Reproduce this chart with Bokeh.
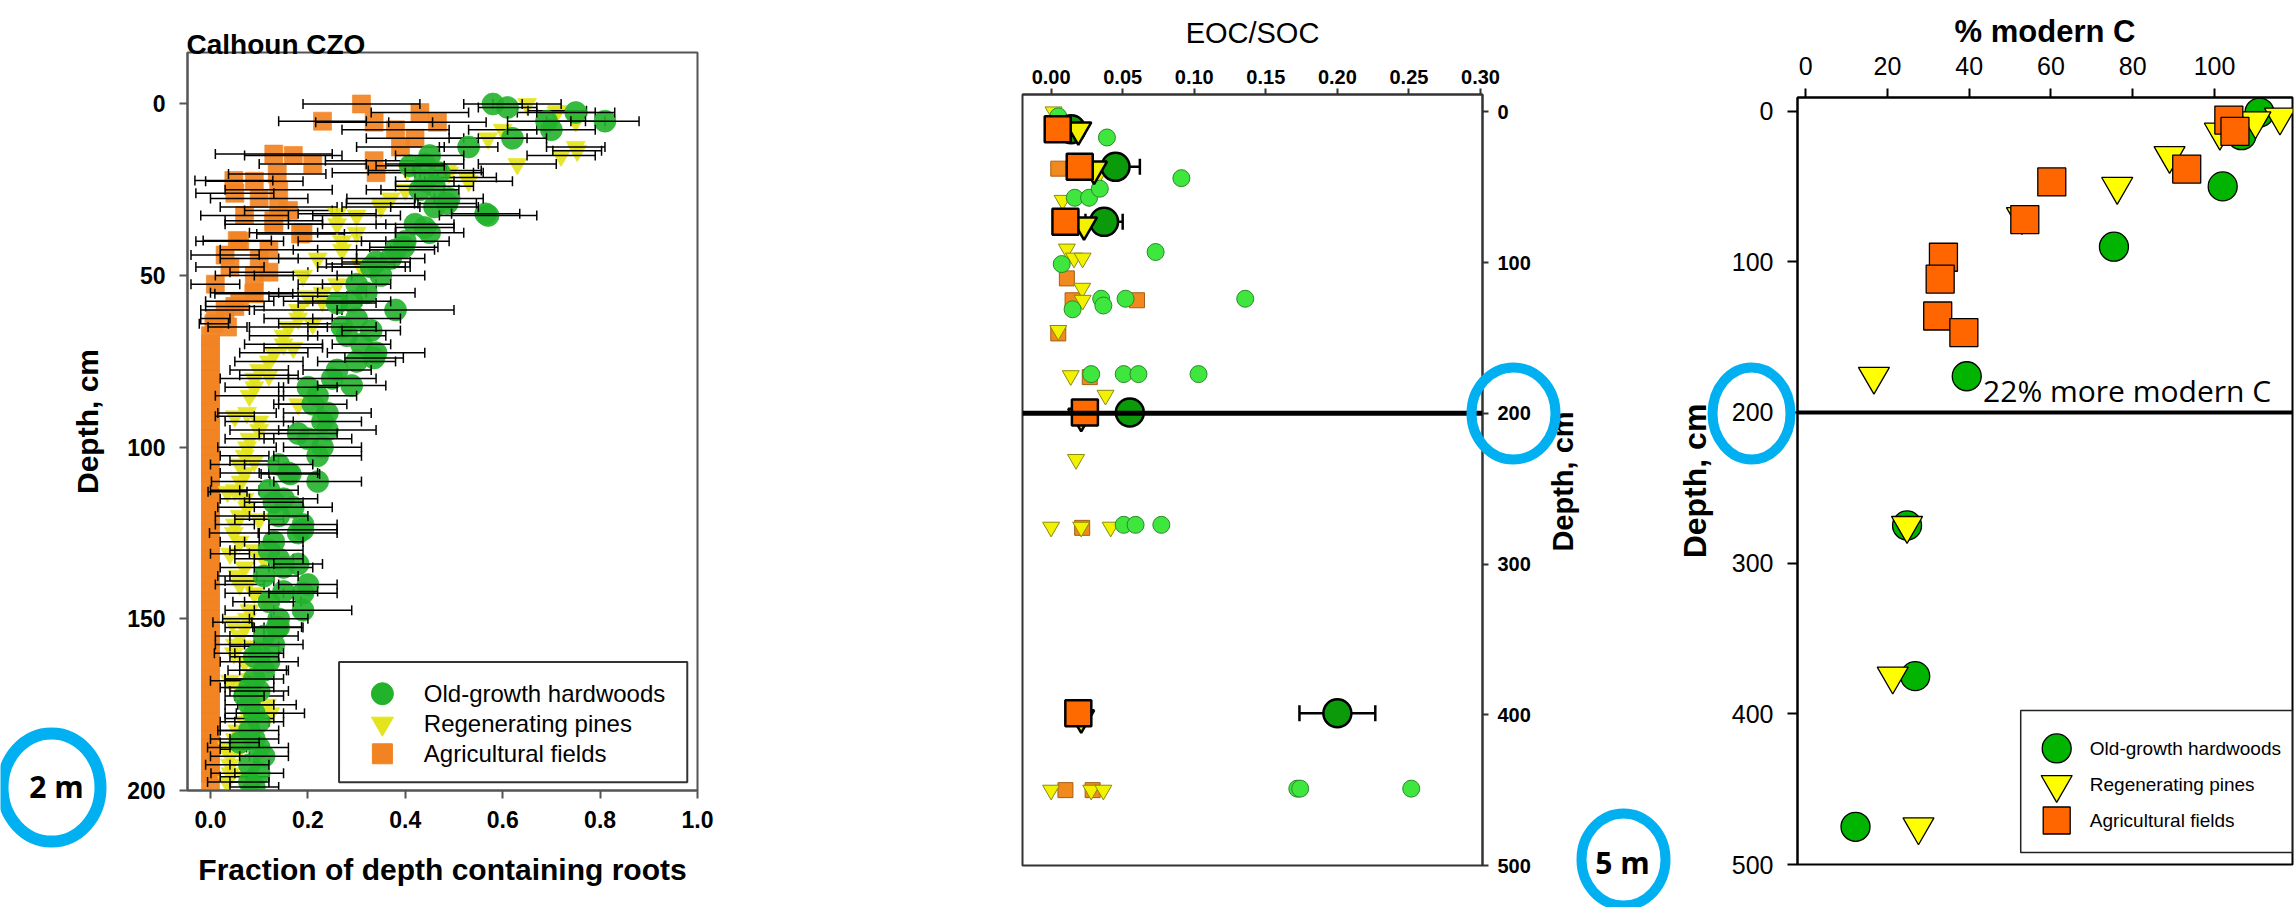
import numpy as np
from bokeh.plotting import figure
from bokeh.models import Range1d, FixedTicker, PrintfTickFormatter, Span, Label, BoxAnnotation, GridBox
from bokeh.core.properties import value
from bokeh.embed import file_html
from bokeh.resources import INLINE

FONT = "Liberation Sans"
RING = "#00B0F0"
H = 907

# ---------------- Panel 1 data: fraction of depth containing roots ----------------
P1_DEPTH = [0, 2.5, 5, 7.5, 10, 12.5, 15, 17.5, 20, 22.5,
            25, 27.5, 30, 32.5, 35, 37.5, 40, 42.5, 45, 47.5,
            50, 52.5, 55, 57.5, 60, 62.5, 65, 67.5, 70, 72.5,
            75, 77.5, 80, 82.5, 85, 87.5, 90, 92.5, 95, 97.5,
            100, 102.5, 105, 107.5, 110, 112.5, 115, 117.5, 120, 122.5,
            125, 127.5, 130, 132.5, 135, 137.5, 140, 142.5, 145, 147.5,
            150, 152.5, 155, 157.5, 160, 162.5, 165, 167.5, 170, 172.5,
            175, 177.5, 180, 182.5, 185, 187.5, 190, 192.5, 195, 197.5]

P1_HARD = [0.58, 0.75, 0.81, 0.70, 0.62, 0.53, 0.45, 0.44, 0.47, 0.44,
           0.43, 0.49, 0.46, 0.57, 0.42, 0.45, 0.40, 0.38, 0.37, 0.33,
           0.35, 0.30, 0.32, 0.29, 0.38, 0.30, 0.27, 0.28, 0.31, 0.34,
           0.30, 0.26, 0.25, 0.20, 0.22, 0.21, 0.24, 0.23, 0.24, 0.20,
           0.23, 0.22, 0.14, 0.16, 0.22, 0.12, 0.15, 0.17, 0.14, 0.19,
           0.18, 0.13, 0.12, 0.14, 0.15, 0.11, 0.20, 0.19, 0.12, 0.19,
           0.14, 0.14, 0.11, 0.13, 0.10, 0.12, 0.11, 0.09, 0.08, 0.07,
           0.08, 0.09, 0.10, 0.08, 0.09, 0.10, 0.11, 0.08, 0.10, 0.08]
P1_HARD_ERR = [0.06, 0.08, 0.07, 0.09, 0.07, 0.06, 0.07, 0.08, 0.07, 0.06,
               0.08, 0.07, 0.09, 0.10, 0.08, 0.07, 0.09, 0.08, 0.07, 0.08,
               0.09, 0.07, 0.10, 0.08, 0.12, 0.09, 0.07, 0.08, 0.06, 0.10,
               0.08, 0.07, 0.09, 0.06, 0.08, 0.07, 0.09, 0.08, 0.10, 0.09,
               0.08, 0.09, 0.07, 0.06, 0.09, 0.06, 0.07, 0.08, 0.06, 0.07,
               0.08, 0.06, 0.07, 0.05, 0.06, 0.07, 0.06, 0.07, 0.05, 0.10,
               0.06, 0.05, 0.07, 0.06, 0.05, 0.06, 0.05, 0.06, 0.05, 0.04,
               0.05, 0.06, 0.05, 0.06, 0.05, 0.06, 0.05, 0.04, 0.05, 0.04]
P1_HARD_XD = [1.0, 5.0, 32.0, 29.0, 41.7, 74.0, 152.4, 124.0, 107.8, 18.0, 24.0, 36.0, 46.0, 58.0, 66.0,
              82.0, 96.0, 116.0, 134.0, 142.0, 161.0, 171.0, 186.0, 199.0]
P1_HARD_XV = [0.61, 0.69, 0.565, 0.486, 0.397, 0.336, 0.137, 0.19, 0.164, 0.41, 0.46, 0.44, 0.34, 0.26, 0.33,
              0.29, 0.18, 0.13, 0.18, 0.15, 0.09, 0.10, 0.06, 0.09]
P1_HARD_XE = [0.06, 0.08, 0.07, 0.06, 0.07, 0.06, 0.05, 0.07, 0.06, 0.07, 0.08, 0.06, 0.07, 0.08, 0.06,
              0.07, 0.08, 0.06, 0.05, 0.07, 0.05, 0.06, 0.04, 0.05]

P1_PINE = [0.65, 0.71, 0.75, 0.60, 0.57, 0.75, 0.72, 0.63, 0.49, 0.53,
           0.40, 0.37, 0.35, 0.30, 0.26, 0.30, 0.27, 0.27, 0.22, 0.31,
           0.19, 0.26, 0.23, 0.23, 0.18, 0.18, 0.16, 0.15, 0.15, 0.13,
           0.12, 0.10, 0.09, 0.09, 0.08, 0.18, 0.075, 0.10, 0.10, 0.08,
           0.075, 0.07, 0.06, 0.07, 0.062, 0.05, 0.07, 0.075, 0.06, 0.05,
           0.048, 0.06, 0.09, 0.11, 0.07, 0.055, 0.06, 0.09, 0.116, 0.08,
           0.075, 0.07, 0.06, 0.05, 0.048, 0.07, 0.096, 0.08, 0.06, 0.10,
           0.116, 0.123, 0.07, 0.055, 0.05, 0.034, 0.04, 0.04, 0.041, 0.034]
P1_PINE_ERR = [0.07, 0.08, 0.06, 0.07, 0.08, 0.06, 0.07, 0.08, 0.07, 0.09,
               0.08, 0.09, 0.08, 0.09, 0.10, 0.08, 0.09, 0.10, 0.08, 0.09,
               0.10, 0.08, 0.09, 0.08, 0.09, 0.07, 0.08, 0.07, 0.08, 0.07,
               0.07, 0.06, 0.07, 0.06, 0.07, 0.05, 0.06, 0.07, 0.06, 0.05,
               0.06, 0.05, 0.06, 0.05, 0.06, 0.05, 0.05, 0.06, 0.05, 0.04,
               0.05, 0.04, 0.05, 0.06, 0.05, 0.04, 0.05, 0.06, 0.07, 0.05,
               0.05, 0.04, 0.05, 0.04, 0.04, 0.05, 0.06, 0.05, 0.04, 0.05,
               0.06, 0.07, 0.05, 0.04, 0.05, 0.04, 0.04, 0.05, 0.04, 0.04]
P1_PINE_XD = [2.0, 13.6, 21.4, 19.4, 19.4, 46.6, 32.0, 29.0, 56.0, 64.0, 71.0, 79.0, 91.0, 104.0, 113.0,
              121.0, 131.0, 139.0, 151.0, 158.0, 168.0, 179.0, 188.0, 196.0]
P1_PINE_XV = [0.712, 0.753, 0.527, 0.486, 0.404, 0.308, 0.26, 0.349, 0.20, 0.21, 0.17, 0.12, 0.05, 0.09, 0.035,
              0.10, 0.04, 0.08, 0.045, 0.09, 0.04, 0.08, 0.06, 0.07]
P1_PINE_XE = [0.06, 0.05, 0.06, 0.07, 0.08, 0.07, 0.08, 0.07, 0.08, 0.07, 0.06, 0.06, 0.04, 0.05, 0.04,
              0.05, 0.04, 0.05, 0.04, 0.05, 0.04, 0.05, 0.04, 0.05]

P1_AGRI = [0.31, 0.43, 0.23, 0.38, 0.42, 0.39, 0.17, 0.21, 0.34, 0.09,
           0.14, 0.10, 0.14, 0.07, 0.13, 0.19, 0.06, 0.12, 0.10, 0.04,
           0.09, 0.01, 0.09, 0.06, 0.03, 0.01, 0.035, 0.0, 0.0, 0.0,
           0.0, 0.0, 0.0, 0.0, 0.0, 0.0, 0.0, 0.0, 0.0, 0.0,
           0.0, 0.0, 0.0, 0.0, 0.0, 0.0, 0.0, 0.0, 0.0, 0.0,
           0.0, 0.0, 0.0, 0.0, 0.0, 0.0, 0.0, 0.0, 0.0, 0.0,
           0.0, 0.0, 0.0, 0.0, 0.0, 0.0, 0.0, 0.0, 0.0, 0.0,
           0.0, 0.0, 0.0, 0.0, 0.0, 0.0, 0.0, 0.0, 0.0, 0.0]
P1_AGRI_ERR = [0.12, 0.10, 0.09, 0.11, 0.10, 0.09, 0.10, 0.11, 0.09, 0.10,
               0.11, 0.10, 0.12, 0.09, 0.10, 0.11, 0.09, 0.10, 0.08, 0.07,
               0.08, 0.05, 0.09, 0.07, 0.05, 0.03, 0.04, 0.0, 0.0, 0.0,
               0.0, 0.0, 0.0, 0.0, 0.0, 0.0, 0.0, 0.0, 0.0, 0.0,
               0.0, 0.0, 0.0, 0.0, 0.0, 0.0, 0.0, 0.0, 0.0, 0.0,
               0.0, 0.0, 0.0, 0.0, 0.0, 0.0, 0.0, 0.0, 0.0, 0.0,
               0.0, 0.0, 0.0, 0.0, 0.0, 0.0, 0.0, 0.0, 0.0, 0.0,
               0.0, 0.0, 0.0, 0.0, 0.0, 0.0, 0.0, 0.0, 0.0, 0.0]
P1_AGRI_XD = [5.3, 5.3, 16.5, 14.6, 22.3, 20.4, 37.9, 34.0, 39.8, 55.3, 64.0, 26.0, 31.0, 44.0, 49.0, 59.0]
P1_AGRI_XV = [0.466, 0.336, 0.336, 0.13, 0.048, 0.137, 0.185, 0.13, 0.055, 0.089, 0.007, 0.05, 0.16, 0.03, 0.12, 0.05]
P1_AGRI_XE = [0.10, 0.12, 0.10, 0.12, 0.08, 0.10, 0.09, 0.10, 0.07, 0.08, 0.03, 0.08, 0.09, 0.07, 0.08, 0.06]

P1_X_TICKS = [0.0, 0.2, 0.4, 0.6, 0.8, 1.0]
P1_Y_TICKS = [0, 50, 100, 150, 200]

# ---------------- Panel 2 data: EOC/SOC ----------------
P2_HARD_X = [0.005, 0.012, 0.039, 0.091, 0.0165, 0.0265, 0.034, 0.073, 0.0074, 0.035, 0.0365, 0.052,
             0.015, 0.1356, 0.028, 0.0507, 0.061, 0.103, 0.0507, 0.059, 0.077, 0.172, 0.174, 0.2516]
P2_HARD_D = [3, 8, 17, 44, 57, 57, 51, 93, 101, 124, 128.5, 124,
             131, 124, 174, 174, 174, 174, 274, 274, 274, 449, 449, 449]
P2_PINE_X = [0.0017, 0.008, 0.011, 0.016, 0.022, 0.0217, 0.022, 0.005, 0.0137, 0.038, 0.0174,
             0.0, 0.021, 0.0416, 0.0, 0.028, 0.0365, 0.033]
P2_PINE_D = [0, 58.7, 91, 97, 97, 117, 125, 145, 175, 188, 230.6,
             275.5, 275.5, 275.5, 450, 450, 450, 42]
P2_AGRI_X = [0.005, 0.011, 0.015, 0.060, 0.005, 0.027, 0.0217, 0.010, 0.029]
P2_AGRI_D = [37.7, 110.5, 125, 125, 147, 176, 276, 450, 450]

P2_HARD_MEAN_X = [0.014, 0.045, 0.037, 0.055, 0.200]
P2_HARD_MEAN_D = [11.5, 36.5, 73, 199.5, 399]
P2_HARD_MEAN_E = [0.006, 0.017, 0.013, 0.008, 0.0265]
P2_PINE_MEAN_X = [0.019, 0.030, 0.023, 0.021, 0.021]
P2_PINE_MEAN_D = [12, 38, 75, 202, 402]
P2_AGRI_MEAN_X = [0.0046, 0.020, 0.010, 0.0236, 0.019]
P2_AGRI_MEAN_D = [11.5, 36.5, 73, 199.5, 399]
P2_AGRI_MEAN_E = [0.004, 0.005, 0.004, 0.005, 0.007]

P2_X_TICKS = [0.0, 0.05, 0.10, 0.15, 0.20, 0.25, 0.30]
P2_Y_TICKS = [0, 100, 200, 300, 400, 500]

# ---------------- Panel 3 data: % modern C ----------------
P3_HARD_X = [111, 106.6, 102, 75.4, 39.4, 24.8, 26.8, 12.2]
P3_HARD_D = [1, 16, 50, 90, 176, 275, 375, 475]
P3_PINE_X = [116, 110, 101.3, 89, 76.2, 52.9, 16.7, 24.8, 21.3, 27.6]
P3_PINE_D = [4, 6.5, 14, 29.5, 50, 70, 176, 275, 375, 475]
P3_AGRI_X = [103.5, 105, 93.2, 60.2, 53.6, 33.7, 32.9, 32.3, 38.7]
P3_AGRI_D = [6, 13.5, 38.5, 47, 72, 97, 111.5, 136, 147]

P3_X_TICKS = [0, 20, 40, 60, 80, 100]
P3_Y_TICKS = [0, 100, 200, 300, 400, 500]

SERIES = ["Old-growth hardwoods", "Regenerating pines", "Agricultural fields"]
BOUNDARY_DEPTH = 200

# ---------------- page overlay decorations (page pixels; y measured upward) ----------------
RING_X = [51, 1513, 1623, 1751]
RING_Y = [H - 787, H - 413, H - 859, H - 413]
RING_W = [98, 84, 84, 78]
RING_H = [108, 92, 92, 92]
RING_LW = [12, 10, 10, 10]
NOTE_X = [56, 1622]
NOTE_Y = [H - 786, H - 862]
NOTE_TEXT = ["2 m", "5 m"]


# ---------------- helpers ----------------
def style_axis(ax, ticks, fmt, size, bold, tick_out, standoff, color, label=None,
               label_size=None, label_bold=True, label_standoff=10):
    ax.ticker = FixedTicker(ticks=ticks, minor_ticks=[])
    ax.formatter = PrintfTickFormatter(format=fmt)
    ax.major_label_text_font = FONT
    ax.major_label_text_font_size = size
    ax.major_label_text_font_style = "bold" if bold else "normal"
    ax.major_label_text_color = "black"
    ax.major_tick_out = tick_out
    ax.major_tick_in = 0
    ax.minor_tick_out = 0
    ax.minor_tick_in = 0
    ax.major_tick_line_width = 2
    ax.major_tick_line_color = color
    ax.axis_line_width = 2
    ax.axis_line_color = color
    ax.major_label_standoff = standoff
    if label:
        ax.axis_label = label
        ax.axis_label_text_font = FONT
        ax.axis_label_text_font_size = label_size
        ax.axis_label_text_font_style = "bold" if label_bold else "normal"
        ax.axis_label_text_color = "black"
        ax.axis_label_standoff = label_standoff


def hbars(p, xs, ds, errs, cap, lw):
    keep = [i for i, e in enumerate(errs) if e > 0]
    lo = [xs[i] - errs[i] for i in keep]
    hi = [xs[i] + errs[i] for i in keep]
    dd = [ds[i] for i in keep]
    p.segment(x0=lo, y0=dd, x1=hi, y1=dd, line_color="black", line_width=lw)
    p.scatter(x=lo + hi, y=dd + dd, marker="dash", angle=np.pi / 2, size=cap,
              line_color="black", line_width=lw)


def note(p, x, y, text, size, font="Open Sans", bold=False, align="center", baseline="middle"):
    p.add_layout(Label(x=x, y=y, text=text, text_font=font, text_font_size=size,
                       text_font_style="bold" if bold else "normal", text_color="black",
                       text_align=align, text_baseline=baseline, level="overlay"))


def base_fig(w, xr, yr, xloc, yloc, bl, br, bt, bb, outline):
    p = figure(width=w, height=H, x_range=Range1d(*xr), y_range=Range1d(*yr),
               x_axis_location=xloc, y_axis_location=yloc, title=None,
               output_backend="svg", toolbar_location=None,
               min_border_left=bl, min_border_right=br, min_border_top=bt, min_border_bottom=bb)
    p.frame_align = False
    p.grid.visible = False
    p.outline_line_color = outline
    p.outline_line_width = 2
    p.background_fill_color = "white"
    p.border_fill_color = "white"
    return p


# ================= Panel 1 =================
p1 = base_fig(758, (-0.0472, 1.0), (200, -15), "below", "left", 187, 61, 52, 117, "#555555")
style_axis(p1.xaxis[0], P1_X_TICKS, "%.1f", "23px", True, 8, 12, "#555555",
           "Fraction of depth containing roots", "30px", True, 22)
style_axis(p1.yaxis[0], P1_Y_TICKS, "%d", "23px", True, 8, 14, "#555555",
           "Depth, cm", "30px", True, 20)

C1_HARD, C1_PINE, C1_AGRI = "#22B22C", "#E4E41C", "#F28322"

p1.add_layout(BoxAnnotation(left=0.264, right=0.979, top=162.6, bottom=197.6, fill_color="white",
                            fill_alpha=1, line_color="#333333", line_alpha=1, line_width=2, level="underlay"))

agri_d = P1_DEPTH + P1_AGRI_XD
agri_v = P1_AGRI + P1_AGRI_XV
agri_e = P1_AGRI_ERR + P1_AGRI_XE
p1.scatter(x=agri_v, y=agri_d, marker="square", size=18, fill_color=C1_AGRI, line_color=C1_AGRI,
           fill_alpha=0.92, line_alpha=0.6)
hbars(p1, agri_v, agri_d, agri_e, 10, 1.5)

pine_d = P1_DEPTH + P1_PINE_XD
pine_v = P1_PINE + P1_PINE_XV
pine_e = P1_PINE_ERR + P1_PINE_XE
p1.scatter(x=pine_v, y=pine_d, marker="inverted_triangle", size=19, fill_color=C1_PINE, line_color=C1_PINE,
           fill_alpha=0.92, line_alpha=0.6)
hbars(p1, pine_v, pine_d, pine_e, 10, 1.5)

hard_d = P1_DEPTH + P1_HARD_XD
hard_v = P1_HARD + P1_HARD_XV
hard_e = P1_HARD_ERR + P1_HARD_XE
p1.scatter(x=hard_v, y=hard_d, marker="circle", size=22, fill_color=C1_HARD, line_color=C1_HARD,
           fill_alpha=0.9, line_alpha=0.6)
hbars(p1, hard_v, hard_d, hard_e, 10, 1.5)

LEG1_X, LEG1_TX = 0.353, 0.438
LEG1_D = [171.8, 180.5, 189.3]
p1.scatter(x=[LEG1_X], y=[LEG1_D[0]], marker="circle", size=22, fill_color=C1_HARD, line_color=C1_HARD)
p1.scatter(x=[LEG1_X], y=[LEG1_D[1]], marker="inverted_triangle", size=22, fill_color=C1_PINE, line_color=C1_PINE)
p1.scatter(x=[LEG1_X], y=[LEG1_D[2]], marker="square", size=20, fill_color=C1_AGRI, line_color=C1_AGRI)
for d, s in zip(LEG1_D, SERIES):
    note(p1, LEG1_TX, d, s, "24px", font=FONT, align="left")

# ================= Panel 2 =================
p2 = base_fig(915, (-0.02, 0.3014), (500, -11.5), "above", "right", 264, 191, 94, 42, "#333333")
style_axis(p2.xaxis[0], P2_X_TICKS, "%.2f", "20px", True, 6, 5, "#333333",
           "EOC/SOC", "29px", False, 18)
style_axis(p2.yaxis[0], P2_Y_TICKS, "%d", "20px", True, 6, 9, "#333333")

C2_HARD_S, C2_HARD_L = "#3EE63E", "#0A9A0A"
C2_PINE = "#F2F200"
C2_AGRI_S, C2_AGRI_L = "#F08A1E", "#FF6A00"

p2.scatter(x=P2_AGRI_X, y=P2_AGRI_D, marker="square", size=15, fill_color=C2_AGRI_S, line_color="#A65E14", line_width=1)
p2.scatter(x=P2_PINE_X, y=P2_PINE_D, marker="inverted_triangle", size=17, fill_color=C2_PINE, line_color="#8A8A10", line_width=1)
p2.scatter(x=P2_HARD_X, y=P2_HARD_D, marker="circle", size=17, fill_color=C2_HARD_S, line_color="#2A8A2A", line_width=1)
hbars(p2, P2_HARD_MEAN_X, P2_HARD_MEAN_D, P2_HARD_MEAN_E, 16, 2.5)
p2.scatter(x=P2_HARD_MEAN_X, y=P2_HARD_MEAN_D, marker="circle", size=28, fill_color=C2_HARD_L, line_color="black", line_width=2.5)
p2.scatter(x=P2_PINE_MEAN_X, y=P2_PINE_MEAN_D, marker="inverted_triangle", size=26, fill_color=C2_PINE, line_color="black", line_width=2.5)
hbars(p2, P2_AGRI_MEAN_X, P2_AGRI_MEAN_D, P2_AGRI_MEAN_E, 16, 2.5)
p2.scatter(x=P2_AGRI_MEAN_X, y=P2_AGRI_MEAN_D, marker="square", size=26, fill_color=C2_AGRI_L, line_color="black", line_width=2.5)

p2.add_layout(Span(location=BOUNDARY_DEPTH, dimension="width", line_color="black", line_width=5))

# ================= Panel 3 =================
p3 = base_fig(621, (-1.99, 119.07), (500, -9), "above", "left", 119, 2, 97, 43, "black")
style_axis(p3.xaxis[0], P3_X_TICKS, "%d", "25px", False, 9, 14, "black",
           "% modern C", "31px", True, 5)
style_axis(p3.yaxis[0], P3_Y_TICKS, "%d", "25px", False, 10, 14, "black",
           "Depth, cm", "32px", True, 16)

C3_HARD, C3_PINE, C3_AGRI = "#00B400", "#FFFF00", "#FF6600"
p3.scatter(x=P3_HARD_X, y=P3_HARD_D, marker="circle", size=29, fill_color=C3_HARD, line_color="black", line_width=1.3)
p3.scatter(x=P3_PINE_X, y=P3_PINE_D, marker="inverted_triangle", size=31, fill_color=C3_PINE, line_color="black", line_width=1.3)
p3.scatter(x=P3_AGRI_X, y=P3_AGRI_D, marker="square", size=28, fill_color=C3_AGRI, line_color="black", line_width=1.3)

p3.add_layout(Span(location=BOUNDARY_DEPTH, dimension="width", line_color="black", line_width=4))
note(p3, 43.4, 185.5, "22% more modern C", "30px", align="left", baseline="middle")

p3.add_layout(BoxAnnotation(left=52.6, right=119.0, top=397.8, bottom=492, fill_color="white",
                            fill_alpha=1, line_color="#222222", line_alpha=1, line_width=1.5, level="underlay"))
LEG3_X, LEG3_TX = 61.4, 69.5
LEG3_D = [423, 446.9, 470.8]
p3.scatter(x=[LEG3_X], y=[LEG3_D[0]], marker="circle", size=29, fill_color=C3_HARD, line_color="black", line_width=1.3)
p3.scatter(x=[LEG3_X], y=[LEG3_D[1]], marker="inverted_triangle", size=31, fill_color=C3_PINE, line_color="black", line_width=1.3)
p3.scatter(x=[LEG3_X], y=[LEG3_D[2]], marker="square", size=27, fill_color=C3_AGRI, line_color="black", line_width=1.3)
for d, s in zip(LEG3_D, SERIES):
    note(p3, LEG3_TX, d, s, "19px", font=FONT, align="left")

# ================= transparent overlay for texts / rings outside the frames =================
ov = figure(width=2294, height=H, x_range=Range1d(0, 2294), y_range=Range1d(0, H),
            x_axis_location=None, y_axis_location=None, title=None,
            output_backend="svg", toolbar_location=None, min_border=0)
ov.frame_align = False
ov.grid.visible = False
ov.outline_line_color = None
ov.background_fill_color = None
ov.border_fill_color = None
ov.text(x=[186], y=[H - 44], text=["Calhoun CZO"], text_font=value(FONT), text_font_size="28px",
        text_font_style="bold", text_align="left", text_baseline="alphabetic", text_color="black")
ov.text(x=[1562], y=[H - 481], text=["Depth, cm"], text_font=value(FONT), text_font_size="29px",
        text_font_style="bold", text_align="center", text_baseline="middle", angle=np.pi / 2,
        text_color="black")
ov.ellipse(x=RING_X, y=RING_Y, width=RING_W, height=RING_H, fill_color=None,
           line_color=RING, line_width=RING_LW)
ov.text(x=NOTE_X, y=NOTE_Y, text=NOTE_TEXT, text_font=value("Open Sans"), text_font_size="30px",
        text_font_style="bold", text_align="center", text_baseline="middle", text_color="black")

layout = GridBox(children=[(p1, 0, 0), (p2, 0, 1), (p3, 0, 2), (ov, 0, 0, 1, 3)], spacing=0)
open("out.html", "w").write(file_html(layout, INLINE))
